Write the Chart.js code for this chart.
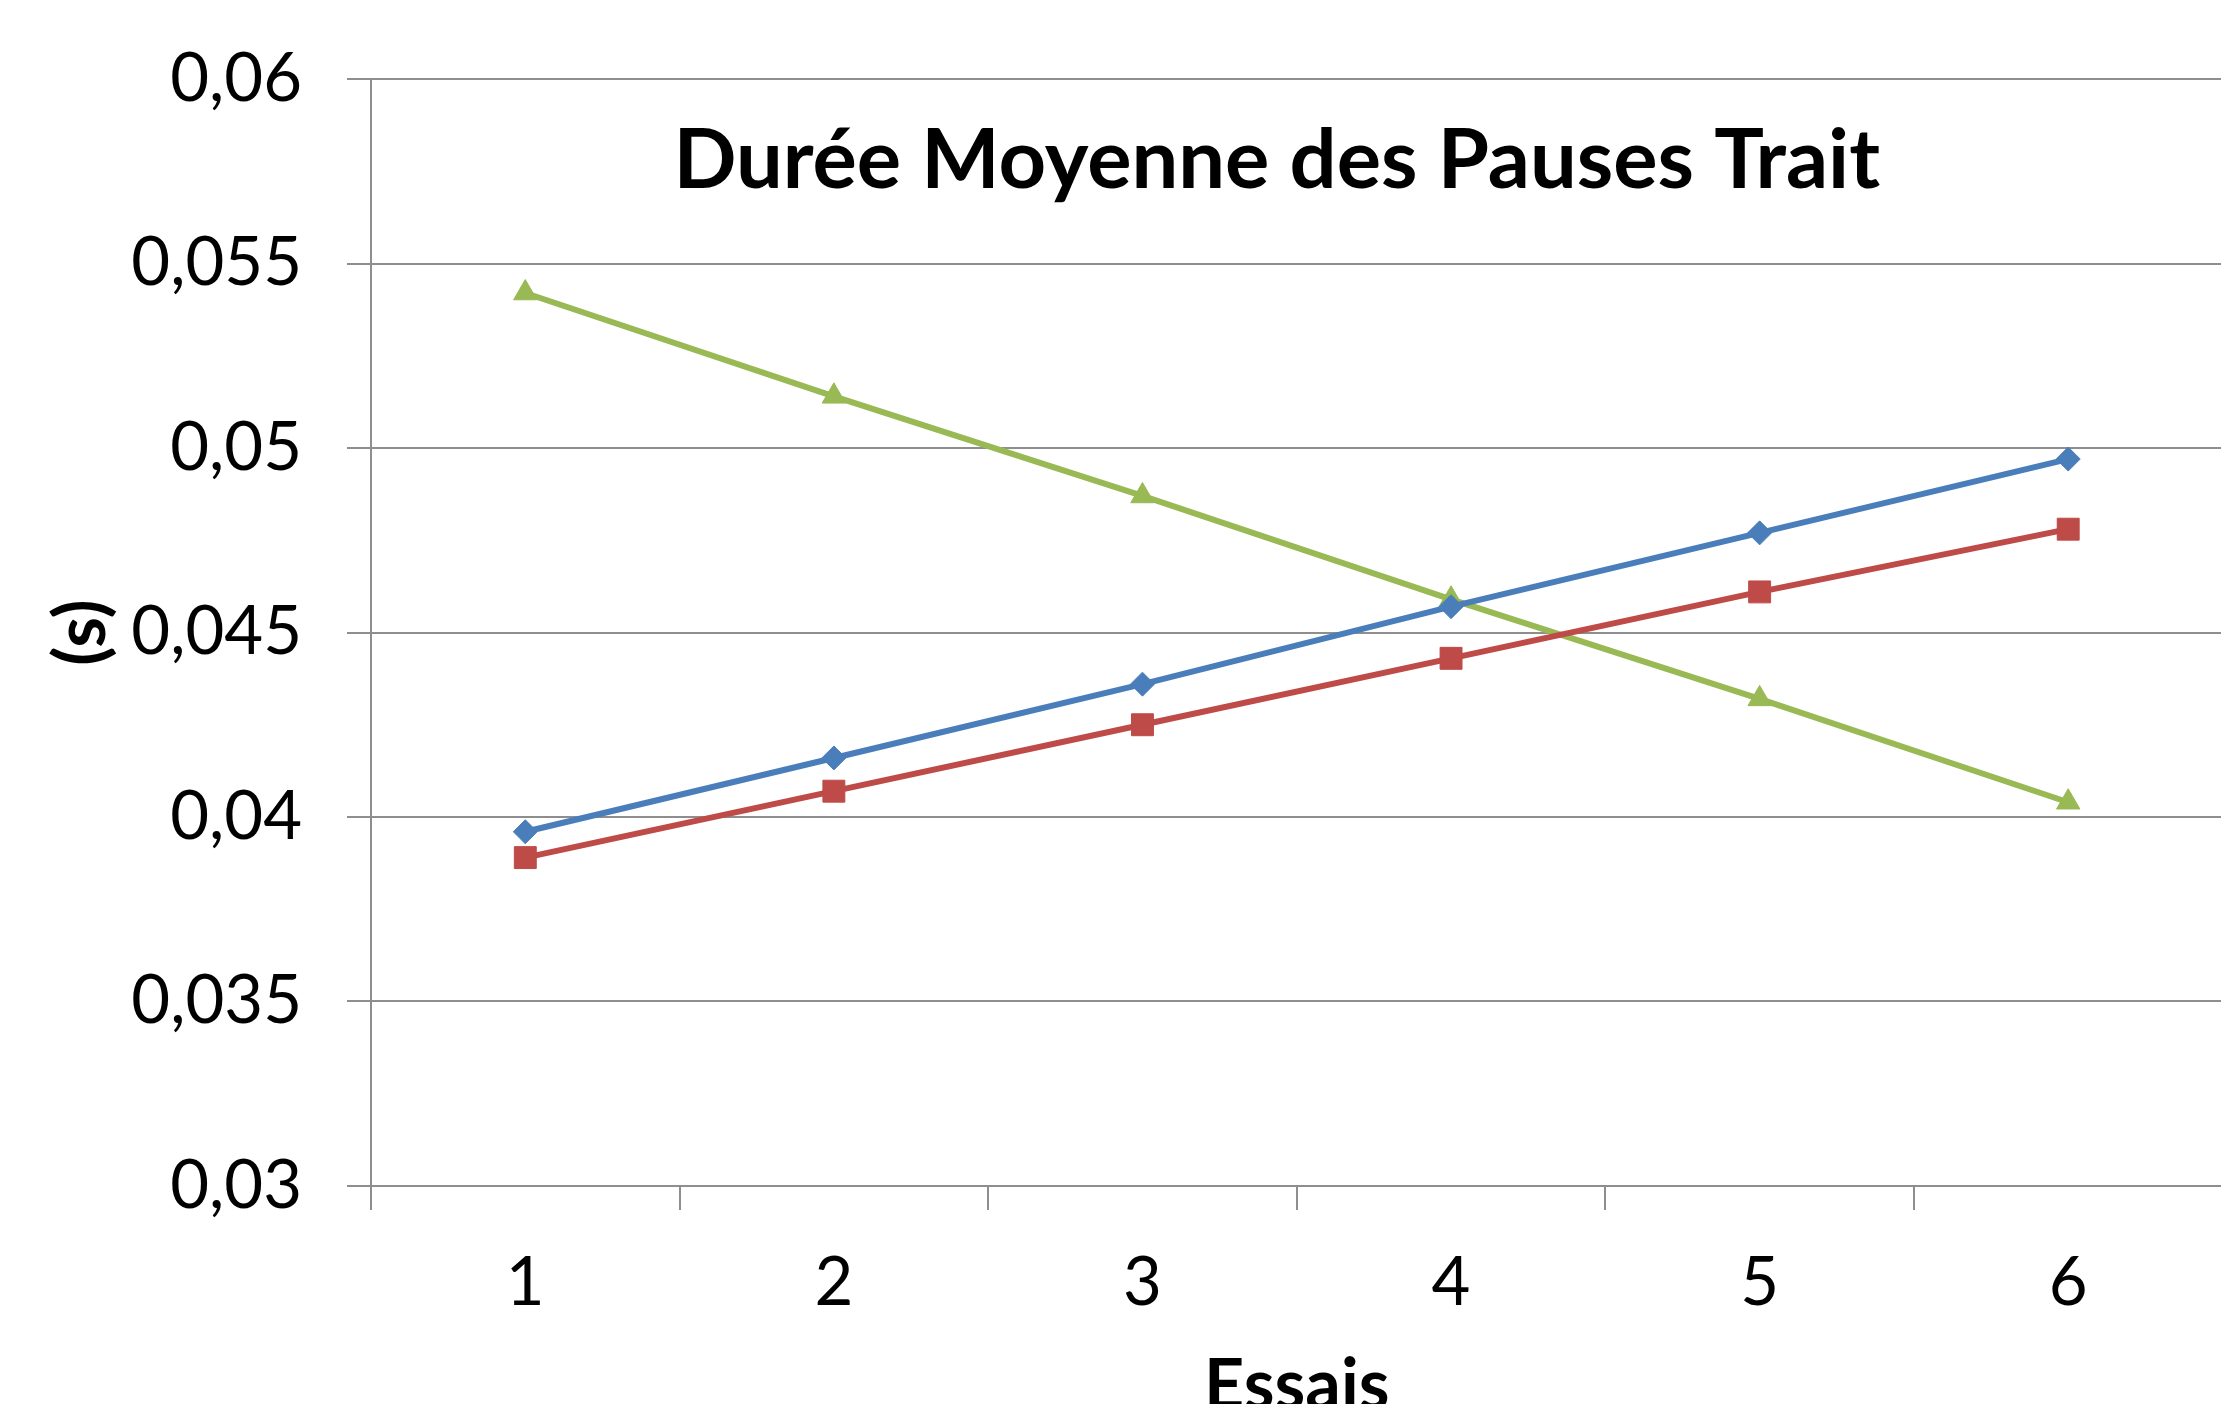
<!DOCTYPE html>
<html>
<head>
<meta charset="utf-8">
<script src="https://cdn.jsdelivr.net/npm/chart.js@4.4.1/dist/chart.umd.min.js"></script>
<style>
  html, body { margin: 0; padding: 0; background: #fff; overflow: hidden; }
  #wrap { width: 2239px; height: 1404px; }
</style>
</head>
<body>
<div id="wrap"><canvas id="chart" width="2239" height="1404"></canvas></div>
<script>
/* Durée moyenne des pauses (trait) par essai */

const essais = ['1', '2', '3', '4', '5', '6'];
const serieBleue = [0.0396, 0.0416, 0.0436, 0.0457, 0.0477, 0.0497];
const serieRouge = [0.0389, 0.0407, 0.0425, 0.0443, 0.0461, 0.0478];
const serieVerte = [0.0542, 0.0514, 0.0487, 0.0459, 0.0432, 0.0404];
const yMin = 0.03, yMax = 0.06, yStep = 0.005;

const TITRE = 'Durée Moyenne des Pauses Trait';
const FONT = 'Lato, "Open Sans", sans-serif';
const GRID = '#8e8e8e';
const BLEU = '#4a7ebb', ROUGE = '#be4b48', VERT = '#98b954';

const virgule = v => String(Number(v.toFixed(3))).replace('.', ',');

/* ---- titre dessiné dans la zone du graphique ---- */
const titrePlugin = {
  id: 'titreInterne',
  afterDatasetsDraw(chart) {
    const { ctx, chartArea: a } = chart;
    ctx.save();
    ctx.font = 'bold 83px ' + FONT;
    ctx.fillStyle = '#000';
    ctx.textAlign = 'center';
    ctx.textBaseline = 'middle';
    ctx.fillText(TITRE, (a.left + a.right) / 2 - 20, a.top + 82);
    ctx.restore();
  }
};

Chart.defaults.font.family = FONT;
Chart.defaults.color = '#000';

const serie = (label, data, color, style, radius) => ({
  label, data,
  borderColor: color, backgroundColor: color,
  borderWidth: 6,
  pointStyle: style, pointRadius: radius, pointHoverRadius: radius,
  pointBorderWidth: 1, pointBorderColor: color,
  tension: 0,
});

new Chart(document.getElementById('chart'), {
  type: 'line',
  data: {
    labels: essais,
    datasets: [
      serie('Série 1', serieBleue, BLEU, 'rectRot', 12),
      serie('Série 2', serieRouge, ROUGE, 'rect', 15.5),
      serie('Série 3', serieVerte, VERT, 'triangle', 13.5),
    ]
  },
  options: {
    responsive: false,
    animation: false,
    layout: { padding: { top: 79, right: 0, bottom: 0, left: 0 } },
    plugins: { legend: { display: false }, tooltip: { enabled: false } },
    scales: {
      x: {
        offset: true,
        grid: { offset: true, drawOnChartArea: false, color: GRID, lineWidth: 2, tickLength: 24 },
        border: { color: GRID, width: 2 },
        ticks: { font: { size: 67, lineHeight: 1 }, padding: 40 },
        title: { display: true, text: 'Essais', font: { size: 70, weight: 'bold', lineHeight: 0.5 }, padding: 0 },
        afterFit: s => { s.height = 218; }
      },
      y: {
        min: yMin, max: yMax,
        ticks: { stepSize: yStep, font: { size: 67, lineHeight: 1 }, padding: 45, callback: v => virgule(v) },
        grid: { color: GRID, lineWidth: 2, tickLength: 24 },
        border: { color: GRID, width: 2 },
        title: { display: true, text: '(s)', font: { size: 70, weight: 'bold', lineHeight: 1.2 }, padding: 40 },
        afterFit: s => { s.width = 371; }
      }
    }
  },
  plugins: [titrePlugin]
});
</script>
</body>
</html>
